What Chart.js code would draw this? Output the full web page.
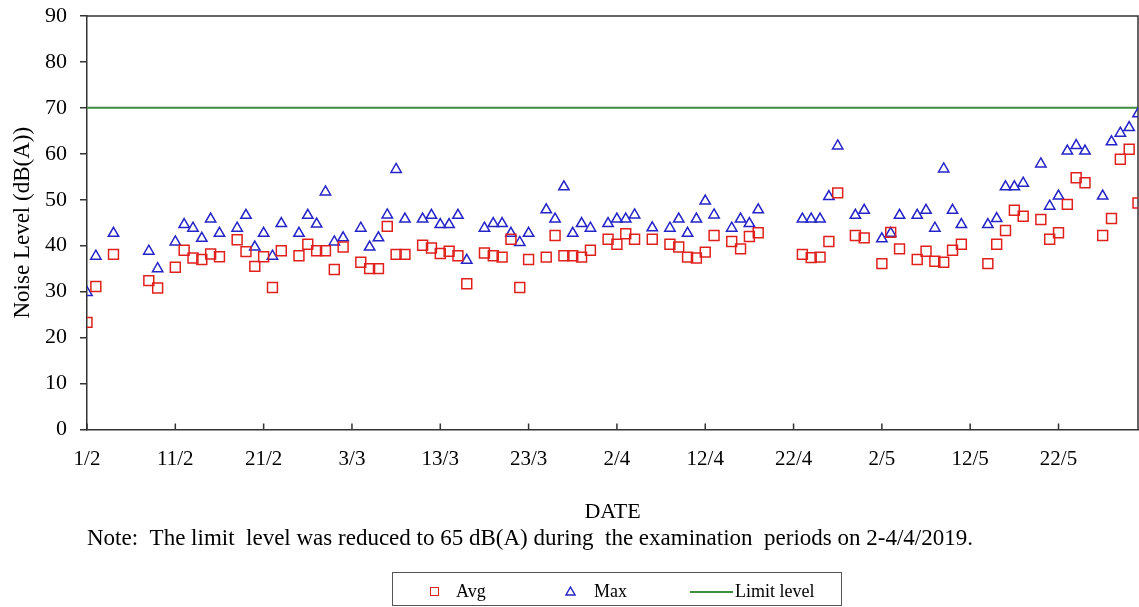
<!DOCTYPE html>
<html>
<head>
<meta charset="utf-8">
<script src="https://cdn.jsdelivr.net/npm/chart.js@4.4.1/dist/chart.umd.min.js"></script>
<style>
  html, body { margin: 0; padding: 0; background: #fff; }
  #wrap { position: relative; width: 1139px; height: 607px; overflow: hidden; }
  #chartNoise { display: block; }
  #legend {
    position: absolute; left: 392px; top: 572px; width: 448px; height: 32px;
    border: 1px solid #555; font-family: 'Liberation Serif', serif; font-size: 18px; color: #000;
  }
  #legend span, #legend svg { position: absolute; }
  #legend .txt { top: 8px; line-height: 20px; }
  #legend .sq { left: 37px; top: 14px; width: 7px; height: 7px; border: 1.5px solid #e0201c; }
  #legend .ln { left: 297px; top: 18px; width: 43px; border-top: 2px solid #3e8e3e; }
</style>
</head>
<body>
<div id="wrap">
  <canvas id="chartNoise" width="1139" height="607"></canvas>
  <div id="legend">
    <span class="sq"></span><span class="txt" style="left:63px">Avg</span>
    <svg width="11" height="10" style="left:172px;top:13px"><polygon points="5.5,1 10,9 1,9" fill="none" stroke="#2424c8" stroke-width="1.4"/></svg>
    <span class="txt" style="left:201px">Max</span>
    <span class="ln"></span><span class="txt" style="left:342px">Limit level</span>
  </div>
</div>
<script>
// days counted from 1/2/2019
const days = [0, 1, 3, 7, 8, 10, 11, 12, 13, 14, 15, 17, 18, 19, 20, 21, 22, 24, 25, 26, 27, 28, 29,
  31, 32, 33, 34, 35, 36, 38, 39, 40, 41, 42, 43, 45, 46, 47, 48, 49, 50, 52, 53, 54, 55, 56, 57,
  59, 60, 61, 62, 64, 66, 67, 68, 69, 70, 71, 73, 74, 75, 76, 81, 82, 83, 84, 85, 87, 88, 90, 91, 92,
  94, 95, 96, 97, 98, 99, 102, 103, 104, 105, 106, 108, 109, 110, 111, 112, 113, 115, 116, 117, 118, 119];

const avgLevels = [23.3, 31.1, 38.1, 32.4, 30.8, 35.3, 39.0, 37.3, 37.0, 38.2, 37.6, 41.3, 38.7, 35.5, 37.6, 30.9, 38.9,
  37.8, 40.3, 38.9, 38.9, 34.8, 39.7, 36.4, 35.0, 35.0, 44.2, 38.1, 38.1, 40.1, 39.5, 38.3, 38.8, 37.8, 31.7,
  38.4, 37.8, 37.5, 41.4, 30.9, 37.0, 37.5, 42.2, 37.8, 37.8, 37.5, 39.0, 41.4, 40.3, 42.6, 41.4, 41.4,
  40.3, 39.7, 37.5, 37.3, 38.6, 42.2, 40.9, 39.3, 42.0, 42.8, 38.1, 37.4, 37.5, 40.9, 51.5, 42.2, 41.7,
  36.1, 42.9, 39.3, 37.0, 38.8, 36.6, 36.4, 39.0, 40.3, 36.1, 40.3, 43.3, 47.7, 46.4, 45.7, 41.4, 42.8,
  49.0, 54.8, 53.7, 42.2, 45.9, 58.8, 61.0, 49.3];

const maxLevels = [29.8, 37.7, 42.7, 38.8, 35.0, 40.8, 44.6, 43.8, 41.6, 45.8, 42.7, 43.8, 46.6, 39.7, 42.7, 37.7, 44.8,
  42.7, 46.6, 44.7, 51.7, 40.8, 41.7, 43.8, 39.7, 41.7, 46.7, 56.6, 45.8, 45.8, 46.6, 44.6, 44.6, 46.6, 36.8,
  43.8, 44.8, 44.8, 42.7, 40.7, 42.7, 47.8, 45.8, 52.8, 42.7, 44.8, 43.8, 44.8, 45.8, 45.8, 46.7, 43.9,
  43.8, 45.8, 42.7, 45.8, 49.7, 46.7, 43.8, 45.8, 44.8, 47.8, 45.8, 45.8, 45.8, 50.7, 61.7, 46.6, 47.7,
  41.5, 42.7, 46.6, 46.6, 47.7, 43.8, 56.7, 47.7, 44.6, 44.6, 45.9, 52.8, 52.8, 53.6, 57.8, 48.6, 50.8,
  60.6, 61.8, 60.6, 50.8, 62.6, 64.5, 65.7, 68.7];

const limitDays = [0, 119];
const limitLevels = [70, 70];

const tickDays = [0, 10, 20, 30, 40, 50, 60, 70, 80, 90, 100, 110];
const tickLabels = ['1/2', '11/2', '21/2', '3/3', '13/3', '23/3', '2/4', '12/4', '22/4', '2/5', '12/5', '22/5'];

const noteText = 'Note:  The limit  level was reduced to 65 dB(A) during  the examination  periods on 2-4/4/2019.';

const serif = 'Liberation Serif, Times New Roman, serif';

// top/right frame and the small inward ticks on the date axis
const framePlugin = {
  id: 'frame',
  beforeDatasetsDraw(chart) {
    const { ctx, chartArea: a, scales: { x } } = chart;
    ctx.save();
    ctx.strokeStyle = '#333';
    ctx.lineWidth = 1.5;
    ctx.beginPath();
    ctx.moveTo(a.left, a.top);
    ctx.lineTo(a.right, a.top);
    ctx.lineTo(a.right, a.bottom);
    x.ticks.forEach(t => {
      const px = x.getPixelForValue(t.value);
      ctx.moveTo(px, a.bottom);
      ctx.lineTo(px, a.bottom - 6);
    });
    ctx.stroke();
    ctx.restore();
  }
};

const ctx = document.getElementById('chartNoise').getContext('2d');

window.chartNoise = new Chart(ctx, {
  type: 'scatter',
  data: {
    datasets: [
      {
        label: 'Avg',
        data: days.map((d, i) => ({ x: d, y: avgLevels[i] })),
        pointStyle: 'rect',
        pointRadius: 7,
        pointHoverRadius: 7,
        borderColor: '#e0201c',
        backgroundColor: 'rgba(0,0,0,0)',
        borderWidth: 1.5
      },
      {
        label: 'Max',
        data: days.map((d, i) => ({ x: d, y: maxLevels[i] })),
        pointStyle: 'triangle',
        pointRadius: 6,
        pointHoverRadius: 6,
        borderColor: '#2424c8',
        backgroundColor: 'rgba(0,0,0,0)',
        borderWidth: 1.5
      },
      {
        label: 'Limit level',
        type: 'line',
        data: limitDays.map((d, i) => ({ x: d, y: limitLevels[i] })),
        showLine: true,
        pointRadius: 0,
        borderColor: '#3e8e3e',
        borderWidth: 2
      }
    ]
  },
  options: {
    responsive: false,
    animation: false,
    layout: { autoPadding: false, padding: { top: 16, right: 1, bottom: 54, left: 0 } },
    plugins: {
      legend: { display: false },
      tooltip: { enabled: false },
      subtitle: {
        display: true,
        position: 'bottom',
        align: 'start',
        fullSize: false,
        weight: 500,
        text: noteText,
        color: '#000',
        font: { family: serif, size: 23, weight: 'normal' },
        padding: { top: 0, bottom: 0 }
      }
    },
    scales: {
      x: {
        type: 'linear',
        min: 0,
        max: 119,
        afterBuildTicks(scale) { scale.ticks = tickDays.map(v => ({ value: v })); },
        afterFit(scale) {
          scale.height = 96;
          scale.paddingLeft = 0;
          scale.paddingRight = 0;
        },
        ticks: {
          autoSkip: false,
          maxRotation: 0,
          padding: 17,
          color: '#000',
          font: { family: serif, size: 21 },
          callback: (v, i) => tickLabels[i]
        },
        grid: { drawOnChartArea: false, drawTicks: false },
        border: { color: '#333', width: 1.5 },
        title: {
          display: true,
          text: 'DATE',
          color: '#000',
          font: { family: serif, size: 22 },
          padding: { top: 0, bottom: 0 }
        }
      },
      y: {
        min: 0,
        max: 90,
        afterFit(scale) {
          scale.width = 87;
          scale.paddingTop = 0;
          scale.paddingBottom = 0;
        },
        ticks: {
          stepSize: 10,
          padding: 13,
          color: '#000',
          font: { family: serif, size: 22 }
        },
        grid: { drawOnChartArea: false, drawTicks: true, tickLength: 7, color: '#333', lineWidth: 1.5 },
        border: { color: '#333', width: 1.5 },
        title: {
          display: true,
          text: 'Noise Level (dB(A))',
          color: '#000',
          font: { family: serif, size: 23 },
          padding: { top: 9, bottom: 0 }
        }
      }
    }
  },
  plugins: [framePlugin]
});
</script>
</body>
</html>
